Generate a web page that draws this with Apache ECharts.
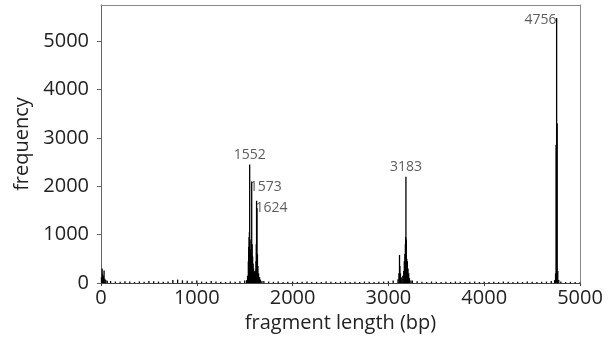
<!DOCTYPE html>
<html><head><meta charset="utf-8">
<script src="https://cdn.jsdelivr.net/npm/echarts@6/dist/echarts.min.js"></script>
<style>html,body{margin:0;padding:0;background:#fff}#c{width:609px;height:343px}</style>
</head><body><div id="c"></div>
<script>
// fragment lengths (bp) and their frequencies
const lengths = [
  5, 12, 18, 25, 32, 40, 50, 65,
  100,150,200,250,300,350,400,450,500,550,600,650,700,750,800,850,900,950,1000,1050,1100,1150,1200,1250,1300,1350,1400,1450,1500,
  1520,1530,1538,1542,1546,1549,1552,1556,1560,1565,1569,1573,1578,1583,1588,1593,1598,1603,1608,1613,1618,1621,1624,1628,1633,1638,1645,1655,1665,1680,
  1700,1750,1800,1850,1900,1950,2000,2050,2100,2150,2200,2250,2300,2350,2400,2450,2500,2550,2600,2650,2700,2750,2800,2850,2900,2950,3000,3050,
  3100,3110,3116,3120,3126,3132,3140,3150,3160,3166,3172,3177,3180,3183,3187,3192,3198,3205,3212,3220,3235,
  3250,3300,3350,3400,3450,3500,3550,3600,3650,3700,3750,3800,3850,3900,3950,4000,4050,4100,4150,4200,4250,4300,4350,4400,4450,4500,4550,4600,4650,4700,
  4735,4745,4750,4756,4762,4768,4778,
  4800,4850,4900,4950,5000
];
const counts = [
  120, 300, 180, 140, 260, 90, 60, 45,
  40,30,25,35,30,20,30,25,40,35,30,25,30,60,70,55,45,35,50,30,25,40,30,25,20,30,25,35,50,
  60,150,450,750,950,1050,2450,900,700,600,650,2100,800,550,400,300,250,220,200,260,450,800,1700,1550,600,350,200,120,70,40,
  40,30,25,30,20,25,30,20,25,30,20,25,20,30,25,20,25,30,20,25,20,30,25,20,25,30,35,50,
  80,200,580,350,200,120,100,150,250,450,600,800,950,2200,900,500,450,300,200,100,50,
  50,35,25,20,30,25,20,25,20,30,25,20,25,30,20,25,20,25,20,30,25,20,25,20,30,25,20,25,30,40,
  60,200,2860,5480,3300,250,60,
  30,20,25,20,15
];
// annotated peaks
const peakLabels = ['1552', '1573', '1624', '3183', '4756'];
const peakX = [1552, 1573, 1624, 3183, 4756];
const peakY = [2450, 2100, 1700, 2200, 5480];
const yTicks = [0, 1000, 2000, 3000, 4000, 5000];
const xTicks = [0, 1000, 2000, 3000, 4000, 5000];

const barData = lengths.map((x, i) => [x, counts[i]]);
const labelPos = [
  {position: 'top', offset: [0, -1]},
  {position: 'right', offset: [-4, 6]},
  {position: 'right', offset: [-3, 7]},
  {position: 'top', offset: [0, -1]},
  {position: 'left', offset: [2, 2]}
];
const labelData = peakX.map((x, i) => ({
  value: [x, peakY[i]], name: peakLabels[i],
  label: Object.assign({show: true, formatter: peakLabels[i]}, labelPos[i])
}));

const font = '"Open Sans", "Noto Sans", sans-serif';
const plain = v => String(v);
const chart = echarts.init(document.getElementById('c'), null, {renderer: 'canvas'});
chart.setOption({
  animation: false,
  grid: {left: 101, right: 29, top: 5, bottom: 60},
  xAxis: [{
    type: 'value', min: 0, max: 5000, interval: 1000,
    name: 'fragment length (bp)', nameLocation: 'middle', nameGap: 28,
    nameTextStyle: {fontFamily: font, fontSize: 20, color: '#222'},
    axisLine: {show: true, lineStyle: {color: '#444', width: 1}},
    axisTick: {show: true, length: 3, inside: false, lineStyle: {color: '#444'}, customValues: xTicks},
    axisLabel: {fontFamily: font, fontSize: 20, color: '#222', margin: 5, customValues: xTicks, formatter: plain},
    splitLine: {show: false}
  }, {
    type: 'value', min: 0, max: 5000, position: 'top',
    axisLine: {show: true, onZero: false, lineStyle: {color: '#8a8a8a', width: 1}},
    axisTick: {show: false}, axisLabel: {show: false}, splitLine: {show: false}
  }],
  yAxis: [{
    type: 'value', min: 0, max: 5750,
    name: 'frequency', nameLocation: 'middle', nameGap: 68, nameRotate: 90,
    nameTextStyle: {fontFamily: font, fontSize: 20, color: '#222'},
    axisLine: {show: true, lineStyle: {color: '#666', width: 1}},
    axisTick: {show: true, length: 4, lineStyle: {color: '#666'}, customValues: yTicks},
    axisLabel: {fontFamily: font, fontSize: 20, color: '#222', margin: 12, customValues: yTicks, formatter: plain},
    splitLine: {show: false}
  }, {
    type: 'value', min: 0, max: 5750, position: 'right',
    axisLine: {show: true, onZero: false, lineStyle: {color: '#8a8a8a', width: 1}},
    axisTick: {show: false}, axisLabel: {show: false}, splitLine: {show: false}
  }],
  series: [
    {
      type: 'bar', data: barData, barWidth: 1.3, itemStyle: {color: '#000'},
      large: false, silent: true
    },
    {
      type: 'scatter', data: labelData, symbolSize: 0, silent: true,
      label: {fontFamily: font, fontSize: 14, color: '#333', distance: 2}
    }
  ]
});
</script></body></html>
